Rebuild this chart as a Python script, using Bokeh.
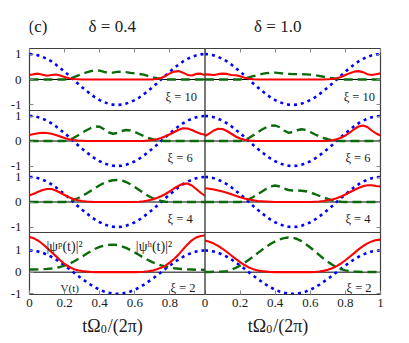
from bokeh.plotting import figure
from bokeh.layouts import column
from bokeh.models import Range1d, FixedTicker, LinearAxis, Span, CustomJSTickFormatter
from bokeh.core.properties import value
from bokeh.embed import file_html
from bokeh.resources import INLINE

# ---------------- data ----------------
t = [0.000, 0.025, 0.050, 0.075, 0.100, 0.125, 0.150, 0.175, 0.200, 0.225,
     0.250, 0.275, 0.300, 0.325, 0.350, 0.375, 0.400, 0.425, 0.450, 0.475,
     0.500, 0.525, 0.550, 0.575, 0.600, 0.625, 0.650, 0.675, 0.700, 0.725,
     0.750, 0.775, 0.800, 0.825, 0.850, 0.875, 0.900, 0.925, 0.950, 0.975, 1.000]

V = [1.00, 0.99, 0.95, 0.89, 0.81, 0.71, 0.59, 0.45, 0.31, 0.16,
     0.00, -0.16, -0.31, -0.45, -0.59, -0.71, -0.81, -0.89, -0.95, -0.99,
     -1.00, -0.99, -0.95, -0.89, -0.81, -0.71, -0.59, -0.45, -0.31, -0.16,
     0.00, 0.16, 0.31, 0.45, 0.59, 0.71, 0.81, 0.89, 0.95, 0.99, 1.00]

xi_values = [10, 6, 4, 2]
delta_labels = ["δ = 0.4", "δ = 1.0"]
panel_tag = "(c)"

# |psi^p|^2  (red) and |psi^h|^2 (green), delta = 0.4
p_d04_xi10 = [0.18, 0.21, 0.23, 0.19, 0.15, 0.18, 0.20, 0.16, 0.10, 0.05,
              0.02, 0.01, 0.00, 0.00, 0.00, 0.00, 0.00, 0.00, 0.00, 0.00,
              0.00, 0.00, 0.00, 0.00, 0.00, 0.00, 0.00, 0.00, 0.00, 0.02,
              0.06, 0.14, 0.24, 0.31, 0.33, 0.27, 0.18, 0.16, 0.22, 0.23, 0.18]
h_d04_xi10 = [0, 0, 0, 0, 0, 0, 0, 0, 0, 0.03,
              0.08, 0.15, 0.22, 0.28, 0.33, 0.36, 0.35, 0.30, 0.26, 0.27,
              0.30, 0.31, 0.29, 0.26, 0.24, 0.22, 0.19, 0.14, 0.09, 0.05,
              0.02, 0, 0, 0, 0, 0, 0, 0, 0, 0, 0]
p_d04_xi6 = [0.24, 0.28, 0.31, 0.33, 0.32, 0.29, 0.24, 0.18, 0.12, 0.07,
             0.04, 0.02, 0.01, 0, 0, 0, 0, 0, 0, 0,
             0, 0, 0, 0, 0, 0, 0, 0.02, 0.04, 0.07,
             0.12, 0.19, 0.27, 0.36, 0.45, 0.51, 0.50, 0.44, 0.36, 0.29, 0.25]
h_d04_xi6 = [0, 0, 0, 0, 0, 0, 0, 0, 0, 0.04,
             0.12, 0.22, 0.33, 0.43, 0.52, 0.58, 0.57, 0.47, 0.35, 0.29,
             0.32, 0.40, 0.44, 0.42, 0.36, 0.28, 0.20, 0.13, 0.07, 0.03,
             0.01, 0, 0, 0, 0, 0, 0, 0, 0, 0, 0]
p_d04_xi4 = [0.27, 0.33, 0.41, 0.48, 0.52, 0.52, 0.46, 0.37, 0.28, 0.19,
             0.12, 0.07, 0.04, 0.02, 0.01, 0, 0, 0, 0, 0,
             0, 0, 0, 0, 0, 0.01, 0.03, 0.06, 0.10, 0.16,
             0.23, 0.32, 0.43, 0.55, 0.65, 0.73, 0.74, 0.66, 0.52, 0.37, 0.25]
h_d04_xi4 = [0, 0, 0, 0, 0, 0, 0, 0, 0, 0.03,
             0.08, 0.15, 0.24, 0.34, 0.45, 0.56, 0.67, 0.76, 0.83, 0.87,
             0.88, 0.86, 0.80, 0.71, 0.60, 0.48, 0.36, 0.25, 0.16, 0.09,
             0.04, 0.01, 0, 0, 0, 0, 0, 0, 0, 0, 0]
p_d04_xi2 = [1.62, 1.56, 1.45, 1.30, 1.12, 0.93, 0.74, 0.55, 0.38, 0.25,
             0.15, 0.09, 0.05, 0.03, 0.01, 0, 0, 0, 0, 0,
             0, 0, 0, 0, 0, 0.01, 0.02, 0.04, 0.07, 0.13,
             0.20, 0.30, 0.45, 0.62, 0.82, 1.05, 1.28, 1.47, 1.60, 1.67, 1.69]
h_d04_xi2 = [0.12, 0.12, 0.13, 0.14, 0.15, 0.17, 0.20, 0.24, 0.30, 0.38,
             0.48, 0.60, 0.72, 0.85, 0.97, 1.08, 1.17, 1.23, 1.26, 1.27,
             1.25, 1.20, 1.12, 1.02, 0.91, 0.79, 0.67, 0.56, 0.46, 0.38,
             0.31, 0.26, 0.21, 0.18, 0.16, 0.14, 0.13, 0.12, 0.11, 0.11, 0.10]

# delta = 1.0
p_d10_xi10 = [0.20, 0.19, 0.18, 0.21, 0.23, 0.22, 0.18, 0.17, 0.13, 0.07,
              0.03, 0.01, 0, 0, 0, 0, 0, 0, 0, 0,
              0, 0, 0, 0, 0, 0, 0, 0, 0.01, 0.02,
              0.05, 0.10, 0.18, 0.25, 0.31, 0.33, 0.29, 0.21, 0.18, 0.21, 0.24]
h_d10_xi10 = [0, 0, 0, 0, 0, 0, 0, 0, 0, 0.03,
              0.08, 0.13, 0.18, 0.22, 0.25, 0.27, 0.27, 0.25, 0.23, 0.22,
              0.21, 0.21, 0.21, 0.20, 0.19, 0.17, 0.14, 0.11, 0.08, 0.05,
              0.02, 0, 0, 0, 0, 0, 0, 0, 0, 0, 0]
p_d10_xi6 = [0.20, 0.30, 0.42, 0.49, 0.48, 0.40, 0.29, 0.18, 0.10, 0.05,
             0.02, 0.01, 0, 0, 0, 0, 0, 0, 0, 0,
             0, 0, 0, 0, 0, 0, 0, 0, 0.01, 0.03,
             0.07, 0.13, 0.22, 0.34, 0.47, 0.58, 0.62, 0.56, 0.42, 0.30, 0.22]
h_d10_xi6 = [0, 0, 0, 0, 0, 0, 0, 0, 0, 0.04,
             0.12, 0.23, 0.35, 0.46, 0.55, 0.61, 0.62, 0.55, 0.42, 0.33,
             0.35, 0.43, 0.47, 0.44, 0.36, 0.27, 0.19, 0.12, 0.07, 0.03,
             0.01, 0, 0, 0, 0, 0, 0, 0, 0, 0, 0]
p_d10_xi4 = [0.55, 0.53, 0.50, 0.46, 0.42, 0.37, 0.31, 0.25, 0.19, 0.14,
             0.10, 0.07, 0.04, 0.03, 0.02, 0.01, 0, 0, 0, 0,
             0, 0, 0, 0, 0, 0.01, 0.02, 0.04, 0.07, 0.10,
             0.15, 0.22, 0.30, 0.39, 0.48, 0.56, 0.63, 0.67, 0.67, 0.64, 0.62]
h_d10_xi4 = [0, 0, 0, 0, 0, 0, 0, 0, 0, 0.04,
             0.11, 0.20, 0.31, 0.42, 0.53, 0.62, 0.66, 0.62, 0.54, 0.48,
             0.46, 0.46, 0.45, 0.43, 0.38, 0.32, 0.25, 0.18, 0.12, 0.07,
             0.03, 0.01, 0, 0, 0, 0, 0, 0, 0, 0, 0]
p_d10_xi2 = [1.46, 1.40, 1.32, 1.21, 1.08, 0.93, 0.77, 0.61, 0.46, 0.33,
             0.22, 0.14, 0.08, 0.05, 0.03, 0.01, 0, 0, 0, 0,
             0, 0, 0, 0, 0, 0.01, 0.03, 0.06, 0.11, 0.18,
             0.28, 0.40, 0.55, 0.71, 0.88, 1.05, 1.20, 1.33, 1.42, 1.48, 1.50]
h_d10_xi2 = [0.01, 0.01, 0.02, 0.02, 0.03, 0.05, 0.12, 0.20, 0.30, 0.43,
             0.57, 0.72, 0.88, 1.03, 1.18, 1.31, 1.42, 1.51, 1.57, 1.60,
             1.59, 1.53, 1.43, 1.29, 1.14, 0.97, 0.80, 0.63, 0.48, 0.34,
             0.23, 0.14, 0.08, 0.05, 0.03, 0.02, 0.01, 0.01, 0.01, 0.01, 0.01]

x_ticks = [0, 0.2, 0.4, 0.6, 0.8, 1.0]
x_tick_labels = ["0", "0.2", "0.4", "0.6", "0.8", "1"]
y_ticks = [-1, 0, 1]
y_tick_labels = ["-1", "0", "1"]

# ---------------- layout constants ----------------
psi_p = [[p_d04_xi10, p_d10_xi10], [p_d04_xi6, p_d10_xi6],
         [p_d04_xi4, p_d10_xi4], [p_d04_xi2, p_d10_xi2]]
psi_h = [[h_d04_xi10, h_d10_xi10], [h_d04_xi6, h_d10_xi6],
         [h_d04_xi4, h_d10_xi4], [h_d04_xi2, h_d10_xi2]]

FONT = "Liberation Serif"
TXT = "#1a1a1a"
EDGE = "#404040"
y_ranges = [(-1.22, 1.22), (-1.22, 1.22), (-1.22, 1.22), (-1.03, 1.83)]
panel_px = [62, 61, 61, 62]          # panel heights, top to bottom
FRAME_H = sum(panel_px)
FRAME_W = 351
LEFT_B, RIGHT_B, TOP_B, BOTTOM_B = 29, 20, 8, 20
xi_x = [[0.775, 0.79], [0.787, 0.80], [0.787, 0.80], [0.803, 0.806]]
xi_y = [-0.69, -0.69, -0.69, -0.71]

# composite vertical position of each panel (pixels from the frame bottom)
panel_lo = []
acc = FRAME_H
for hpx in panel_px:
    acc -= hpx
    panel_lo.append(acc)


def panel_range(r):
    vmin, vmax = y_ranges[r]
    k = (vmax - vmin) / panel_px[r]
    start = vmin - panel_lo[r] * k
    return Range1d(start, start + FRAME_H * k)


def to_composite(r, v):
    vmin, vmax = y_ranges[r]
    return panel_lo[r] + (v - vmin) * panel_px[r] / (vmax - vmin)


LOOKUP = """
const i = pos.findIndex((q) => Math.abs(q - tick) < 1e-6);
return i >= 0 ? labs[i] : "";
"""


def style_axis(ax):
    ax.axis_line_color = None
    ax.major_tick_in = 4
    ax.major_tick_out = 0
    ax.major_tick_line_color = "#888888"
    ax.minor_tick_line_color = None
    ax.major_label_text_font = FONT
    ax.major_label_text_font_size = "13px"
    ax.major_label_text_color = TXT


def hide_labels(ax):
    ax.major_label_text_font_size = "0px"
    ax.formatter = CustomJSTickFormatter(code="return ''")
    ax.major_label_standoff = 0


def blank_fig(height):
    f = figure(width=LEFT_B + FRAME_W, height=height,
               x_range=Range1d(0, 2), y_range=Range1d(0, 1),
               x_axis_type=None, y_axis_type=None,
               min_border_left=LEFT_B, min_border_right=0,
               min_border_top=0, min_border_bottom=0,
               output_backend="svg", toolbar_location=None,
               background_fill_color="white", border_fill_color="white")
    f.outline_line_color = None
    f.grid.visible = False
    return f


# ---------------- header ----------------
header = blank_fig(48 - TOP_B)
header.text(x=[0.5, 1.5], y=[0.36, 0.36], text=delta_labels,
            text_font=value(FONT), text_font_size=value("17px"), text_color=TXT,
            text_align="center", text_baseline="alphabetic")
header.text(x=[0], y=[0.36], text=[panel_tag], x_offset=-1,
            text_font=value(FONT), text_font_size=value("17px"), text_color=TXT,
            text_align="left", text_baseline="alphabetic")

# ---------------- panels (one frame, eight scales) ----------------
p = figure(width=LEFT_B + FRAME_W + RIGHT_B, height=TOP_B + FRAME_H + BOTTOM_B,
           x_range=Range1d(0, 2), y_range=Range1d(0, FRAME_H),
           min_border_left=LEFT_B, min_border_right=RIGHT_B,
           min_border_top=TOP_B, min_border_bottom=BOTTOM_B,
           output_backend="svg", toolbar_location=None,
           background_fill_color="white", border_fill_color="white")
p.grid.visible = False
p.outline_line_color = EDGE
p.outline_line_width = 1.2
p.extra_x_ranges = {"right": Range1d(-1, 1)}
p.extra_y_ranges = {"y%d" % r: panel_range(r) for r in range(4)}

# x axis: left panel 0..0.8, right panel 0..1
xpos, xlab = [], []
for c, n in ((0, 5), (1, 6)):
    for tk, lb in zip(x_ticks[:n], x_tick_labels[:n]):
        xpos.append(c + tk)
        xlab.append(lb)
ypos, ylab = [], []
for r in range(4):
    for tk, lb in zip(y_ticks, y_tick_labels):
        ypos.append(to_composite(r, tk))
        ylab.append(lb)

xa, ya = p.xaxis[0], p.yaxis[0]
for ax in (xa, ya):
    style_axis(ax)
xa.ticker = FixedTicker(ticks=xpos)
xa.formatter = CustomJSTickFormatter(args=dict(pos=xpos, labs=xlab), code=LOOKUP)
xa.major_label_standoff = 4
ya.ticker = FixedTicker(ticks=ypos)
ya.formatter = CustomJSTickFormatter(args=dict(pos=ypos, labs=ylab), code=LOOKUP)
ya.major_label_standoff = 8

ax_top = LinearAxis(ticker=FixedTicker(ticks=xpos))
ax_right = LinearAxis(ticker=FixedTicker(ticks=ypos))
for ax in (ax_top, ax_right):
    style_axis(ax)
    hide_labels(ax)
p.add_layout(ax_top, "above")
p.add_layout(ax_right, "right")

# zero lines
for r in range(4):
    p.add_layout(Span(location=0, dimension="width", y_range_name="y%d" % r,
                      line_color="black", line_width=1, level="underlay"))

for r in range(4):
    yn = "y%d" % r
    for c in range(2):
        xn = "default" if c == 0 else "right"
        p.line(t, V, line_color="#0000ff", line_width=2.6, line_dash="3 4",
               x_range_name=xn, y_range_name=yn)
        p.line(t, psi_h[r][c], line_color="#0b6b0b", line_width=2.4, line_dash="9 5",
               x_range_name=xn, y_range_name=yn)
        p.line(t, psi_p[r][c], line_color="#ff0000", line_width=2.1,
               x_range_name=xn, y_range_name=yn)
        p.text(x=[xi_x[r][c]], y=[xi_y[r]], text=["ξ = %d" % xi_values[r]],
               x_range_name=xn, y_range_name=yn,
               text_font=value(FONT), text_font_size=value("12.5px"), text_color=TXT,
               text_align="left", text_baseline="alphabetic")

# panel separators
for r in range(1, 4):
    p.add_layout(Span(location=panel_lo[r - 1], dimension="width",
                      line_color=EDGE, line_width=1.2))
p.add_layout(Span(location=1, dimension="height", line_color=EDGE, line_width=1.4))

# legend-like labels in the bottom-left panel
p.text(x=[0.097, 0.606], y=[1.2, 1.2], text=["|ψᵖ(t)|²", "|ψʰ(t)|²"],
       y_range_name="y3",
       text_font=value(FONT), text_font_size=value("14px"), text_color=TXT,
       text_align="left", text_baseline="alphabetic")
p.text(x=[0.177], y=[-0.71], text=["V(t)"], y_range_name="y3",
       text_font=value(FONT), text_font_size=value("11px"), text_color=TXT,
       text_align="left", text_baseline="alphabetic")

# ---------------- footer: axis titles tΩ0/(2π) ----------------
footer = blank_fig(24)
footer.text(x=[0.5, 1.5], y=[0.54, 0.54], text=["tΩ", "tΩ"], x_offset=-11.5,
            text_font=value(FONT), text_font_size=value("18px"), text_color=TXT,
            text_align="right", text_baseline="alphabetic")
footer.text(x=[0.5, 1.5], y=[0.54, 0.54], text=["0", "0"], x_offset=-11.5, y_offset=3,
            text_font=value(FONT), text_font_size=value("12px"), text_color=TXT,
            text_align="left", text_baseline="alphabetic")
footer.text(x=[0.5, 1.5], y=[0.54, 0.54], text=["/(2π)", "/(2π)"], x_offset=-4.5,
            text_font=value(FONT), text_font_size=value("18px"), text_color=TXT,
            text_align="left", text_baseline="alphabetic")

layout = column(header, p, footer)
open("out.html", "w").write(file_html(layout, INLINE))
